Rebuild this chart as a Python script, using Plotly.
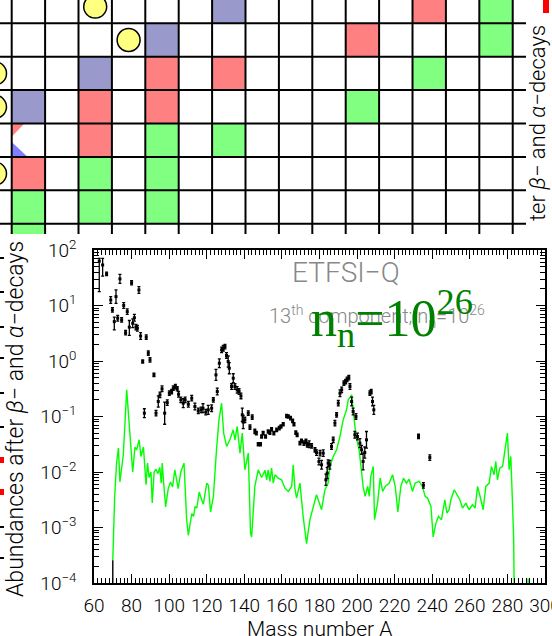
import numpy as np
import plotly.graph_objects as go

# ---------------- abundance panel data ----------------
# r-process model curve (13th component, n_n = 1e26): mass number and log10 abundance
model_A = [70.0, 71.0, 72.0, 73.0, 73.8, 75.6, 77.4, 80.6, 81.8, 82.7, 84.0, 85.0, 86.3, 87.7,
           88.5, 89.3, 90.3, 91.0, 92.0, 93.0, 94.0, 95.0, 95.8, 96.3, 97.2, 98.1, 99.5, 100.7,
           101.8, 103.0, 104.8, 106.2, 107.9, 109.3, 110.2, 112.0, 113.0, 113.8, 114.7, 116.0,
           117.3, 118.2, 120.0, 120.9, 122.0, 123.5, 125.2, 126.5, 127.9, 129.0, 130.6, 132.3,
           134.1, 135.0, 136.2, 137.7, 138.9, 140.3, 142.1, 143.3, 143.9, 145.6, 147.4, 149.2,
           151.0, 151.9, 152.7, 153.6, 154.5, 155.4, 156.3, 158.0, 159.8, 161.6, 163.4, 165.2,
           166.0, 166.9, 167.8, 169.6, 171.3, 173.1, 174.9, 176.6, 178.4, 179.3, 181.1, 182.9,
           184.6, 185.5, 187.3, 189.1, 190.9, 192.6, 194.4, 195.3, 197.1, 199.4, 201.1, 203.2,
           204.3, 205.6, 206.5, 207.3, 208.6, 209.3, 210.9, 212.3, 213.6, 215.0, 217.1, 218.9,
           220.3, 221.7, 223.3, 224.7, 226.3, 227.7, 229.5, 230.9, 233.0, 234.8, 236.2, 237.5,
           239.3, 240.5, 241.9, 243.3, 244.9, 246.7, 247.8, 249.0, 249.9, 251.7, 253.5, 254.7,
           256.1, 257.9, 259.6, 261.4, 262.8, 264.1, 265.9, 267.1, 268.5, 270.3, 271.5, 272.9,
           273.8, 274.7, 275.9, 277.4, 278.2, 279.1, 280.0, 280.9, 281.8, 282.7, 283.3, 283.9,
           290.5, 291.0, 291.5]
model_log = [-3.59, -2.45, -1.84, -1.57, -2.18, -1.69, -0.52, -2.00, -1.55, -1.60, -1.42, -1.72,
             -1.55, -2.23, -1.84, -2.10, -2.00, -2.56, -2.00, -1.95, -2.03, -1.92, -2.20, -1.84,
             -2.25, -2.63, -2.30, -2.18, -2.27, -1.96, -2.30, -2.00, -1.84, -2.85, -3.14, -2.75,
             -2.80, -2.62, -2.65, -2.36, -2.50, -2.58, -2.20, -2.24, -2.72, -2.45, -1.60, -1.06,
             -0.76, -1.30, -1.54, -1.42, -1.24, -1.42, -1.18, -1.66, -1.30, -1.96, -1.66, -3.10,
             -3.17, -2.26, -1.96, -2.10, -1.97, -2.14, -1.96, -2.17, -1.93, -2.20, -2.05, -2.11,
             -2.14, -2.29, -2.35, -2.26, -1.87, -2.29, -2.47, -2.20, -2.80, -3.29, -2.86, -2.63,
             -2.41, -2.50, -2.68, -2.32, -2.20, -1.90, -1.72, -1.60, -1.36, -1.06, -0.88, -0.70,
             -0.61, -1.36, -1.60, -2.26, -2.44, -2.26, -2.44, -2.08, -1.90, -2.86, -2.56, -2.11,
             -2.35, -2.26, -2.20, -2.05, -2.26, -2.72, -2.26, -2.11, -2.20, -2.13, -2.35, -2.20,
             -2.17, -2.26, -2.44, -2.47, -2.62, -3.17, -2.93, -2.80, -2.86, -2.50, -2.74, -2.68,
             -2.50, -2.32, -2.44, -2.50, -2.65, -2.56, -2.68, -2.59, -2.65, -2.26, -2.50, -2.68,
             -2.26, -2.20, -1.90, -2.05, -1.81, -2.14, -1.93, -1.90, -1.72, -1.48, -1.30, -1.96,
             -1.72, -2.56, -3.17, -5.00, -5.00, -3.92, -5.00]

# onset of the model curve at A = 70
onset_A = [70.0, 70.0]
onset_log = [-5.0, -3.59]

# solar r-process abundances with uncertainties (log10, dex)
solar_A = [62.8, 64.6, 66.7, 68.9, 69.8, 70.8, 71.7, 72.6, 73.8, 74.7, 75.8, 76.8, 77.7, 78.8,
           80.0, 80.6, 81.5, 82.3, 83.1, 83.9, 84.8, 85.9, 86.8, 87.8, 88.9, 89.8, 91.9, 93.0,
           94.2, 95.1, 96.2, 97.6, 99.0, 100.1, 101.3, 102.2, 103.3, 104.3, 105.0, 106.2, 107.5,
           108.5, 110.2, 112.0, 113.7, 115.5, 117.0, 118.0, 119.5, 120.8, 122.6, 123.5, 124.9,
           125.6, 126.7, 127.9, 128.8, 129.7, 130.5, 131.4, 132.0, 133.2, 134.1, 135.0, 136.2,
           137.2, 138.2, 138.9, 139.4, 140.3, 142.1, 143.0, 144.2, 145.6, 146.4, 147.4, 148.6,
           149.2, 150.0, 151.3, 152.7, 153.6, 154.5, 155.7, 157.2, 158.6, 159.5, 160.7, 162.5,
           163.4, 164.6, 165.7, 166.4, 167.4, 168.1, 169.6, 170.4, 171.7, 172.8, 173.5, 174.5,
           175.8, 177.6, 178.4, 179.7, 180.3, 181.1, 182.0, 183.4, 184.1, 184.6, 185.5, 186.4,
           187.3, 188.2, 189.1, 190.0, 190.9, 191.8, 193.0, 193.9, 194.7, 195.6, 196.2, 197.1,
           197.9, 198.8, 199.4, 200.2, 201.5, 202.4, 203.2, 204.1, 205.0, 206.8, 207.5, 208.2,
           208.9, 232.7, 235.3, 238.7]
solar_log = [1.80, 1.73, 1.57, 1.10, 0.92, 0.71, 1.16, 0.77, 1.48, 0.74, 1.00, 0.51, 0.89, 0.61,
             1.41, 0.68, 0.78, 0.61, 0.59, 1.28, 0.45, -0.01, -0.94, 0.43, 0.14, 0.02, -0.25,
             -0.94, -0.73, -0.61, -0.50, -0.94, -0.75, -0.58, -0.55, -0.49, -0.46, -0.50, -0.60,
             -0.70, -0.76, -0.70, -0.78, -0.67, -0.82, -0.90, -0.88, -0.85, -0.92, -0.88, -0.85,
             -0.70, -0.25, -0.55, -0.04, 0.20, 0.23, 0.26, 0.10, -0.01, -0.13, -0.46, -0.31, -0.46,
             -0.52, -0.55, -0.63, -0.97, -1.10, -1.06, -0.94, -1.19, -1.01, -1.27, -1.30, -1.50,
             -1.50, -1.36, -1.30, -1.36, -1.27, -1.29, -1.23, -1.30, -1.24, -1.21, -1.18, -1.14,
             -0.99, -1.00, -1.03, -1.08, -1.14, -1.29, -1.33, -1.48, -1.44, -1.48, -1.45, -1.51,
             -1.50, -1.53, -1.60, -1.65, -1.81, -1.66, -1.87, -1.66, -2.14, -2.02, -1.84, -1.87,
             -1.54, -1.42, -1.12, -0.97, -0.76, -0.58, -0.52, -0.40, -0.37, -0.33, -0.30, -0.46,
             -0.73, -0.91, -1.33, -1.00, -1.36, -1.48, -1.60, -1.81, -1.65, -1.42, -0.58, -0.55,
             -0.73, -0.88, -1.36, -2.24, -1.74]
solar_err_up = [0.05, 0.12, 0.03, 0.06, 0.04, 0.08, 0.12, 0.05, 0.08, 0.04, 0.05, 0.04, 0.05, 0.12,
                0.04, 0.08, 0.06, 0.05, 0.05, 0.06, 0.06, 0.03, 0.08, 0.04, 0.04, 0.04, 0.03, 0.05,
                0.10, 0.05, 0.05, 0.20, 0.05, 0.04, 0.04, 0.04, 0.04, 0.04, 0.05, 0.05, 0.08, 0.05,
                0.05, 0.05, 0.06, 0.05, 0.05, 0.08, 0.05, 0.08, 0.06, 0.04, 0.10, 0.06, 0.08, 0.05,
                0.05, 0.04, 0.05, 0.10, 0.10, 0.05, 0.08, 0.05, 0.06, 0.05, 0.05, 0.12, 0.12, 0.05,
                0.04, 0.04, 0.04, 0.04, 0.03, 0.03, 0.03, 0.03, 0.03, 0.03, 0.03, 0.03, 0.03, 0.03,
                0.03, 0.03, 0.03, 0.03, 0.03, 0.03, 0.03, 0.03, 0.03, 0.03, 0.03, 0.03, 0.03, 0.04,
                0.04, 0.04, 0.06, 0.04, 0.04, 0.05, 0.06, 0.05, 0.08, 0.06, 0.10, 0.10, 0.06, 0.08,
                0.05, 0.05, 0.05, 0.04, 0.05, 0.06, 0.05, 0.04, 0.04, 0.04, 0.04, 0.05, 0.08, 0.06,
                0.06, 0.05, 0.06, 0.08, 0.08, 0.15, 0.10, 0.15, 0.04, 0.04, 0.08, 0.08, 0.04, 0.05,
                0.05]
solar_err_dn = [0.55, 0.20, 0.03, 0.06, 0.04, 0.15, 0.12, 0.05, 0.08, 0.04, 0.05, 0.04, 0.05, 0.15,
                0.04, 0.08, 0.06, 0.05, 0.05, 0.06, 0.06, 0.03, 0.08, 0.04, 0.04, 0.04, 0.03, 0.05,
                0.10, 0.05, 0.05, 0.20, 0.05, 0.04, 0.04, 0.04, 0.04, 0.04, 0.05, 0.05, 0.08, 0.05,
                0.05, 0.05, 0.06, 0.05, 0.05, 0.08, 0.05, 0.08, 0.06, 0.04, 0.10, 0.06, 0.08, 0.05,
                0.05, 0.04, 0.05, 0.10, 0.10, 0.05, 0.08, 0.05, 0.06, 0.05, 0.05, 0.12, 0.12, 0.05,
                0.04, 0.04, 0.04, 0.04, 0.03, 0.03, 0.03, 0.03, 0.03, 0.03, 0.03, 0.03, 0.03, 0.03,
                0.03, 0.03, 0.03, 0.03, 0.03, 0.03, 0.03, 0.03, 0.03, 0.03, 0.03, 0.03, 0.03, 0.04,
                0.04, 0.04, 0.06, 0.04, 0.04, 0.05, 0.06, 0.05, 0.08, 0.06, 0.10, 0.10, 0.06, 0.08,
                0.05, 0.05, 0.05, 0.04, 0.05, 0.06, 0.05, 0.04, 0.04, 0.04, 0.04, 0.05, 0.08, 0.06,
                0.06, 0.05, 0.06, 0.08, 0.08, 0.15, 0.10, 0.15, 0.04, 0.04, 0.08, 0.08, 0.04, 0.05,
                0.05]

x_ticks = [60, 80, 100, 120, 140, 160, 180, 200, 220, 240, 260, 280, 300]
y_tick_exp = [-4, -3, -2, -1, 0, 1, 2]

# ---------------- nuclide grid data (column, row) ----------------
blue_cells = [(7, 0), (5, 1), (3, 2), (1, 3)]
red_cells = [(13, 0), (11, 1), (5, 2), (7, 2), (3, 3), (5, 3), (3, 4), (1, 5)]
green_cells = [(15, 0), (15, 1), (13, 2), (11, 3), (5, 4), (7, 4), (3, 5), (5, 5),
               (1, 6), (3, 6), (5, 6), (1, 7)]
stable_nuclei = [(3, 0), (4, 1), (0, 2), (0, 3), (0, 5)]
n_cols, n_rows = 17, 8

FONT = "Roboto"
W, H = 552, 636

fig = go.Figure()

# ---- nuclide chart cells ----
z = np.full((n_rows, n_cols), np.nan)
for code, cells in ((1, blue_cells), (2, red_cells), (3, green_cells)):
    for c, r in cells:
        z[r, c] = code
fig.add_trace(go.Heatmap(
    x=list(range(n_cols)), y=list(range(n_rows)), z=z, xaxis="x2", yaxis="y2",
    zmin=1, zmax=3, showscale=False, hoverinfo="skip",
    colorscale=[[0.0, "#9999cc"], [0.5, "#ff8080"], [1.0, "#80ff80"]],
))
fig.add_trace(go.Scatter(
    x=[c for c, r in stable_nuclei], y=[r for c, r in stable_nuclei], xaxis="x2", yaxis="y2",
    mode="markers", hoverinfo="skip",
    marker=dict(size=23, color="#ffff80", line=dict(color="black", width=1.5)),
))

# ---- abundance panel ----
sol_A = np.array(solar_A)
sol_v = 10 ** np.array(solar_log)
err_plus = 10 ** (np.array(solar_log) + np.array(solar_err_up)) - sol_v
err_minus = sol_v - 10 ** (np.array(solar_log) - np.array(solar_err_dn))

fig.add_trace(go.Scatter(
    x=model_A, y=10 ** np.array(model_log), mode="lines",
    line=dict(color="#00ff00", width=1.4), hoverinfo="skip",
))
fig.add_trace(go.Scatter(
    x=onset_A, y=10 ** np.array(onset_log), mode="lines",
    line=dict(color="black", width=1.4), hoverinfo="skip",
))
fig.add_trace(go.Scatter(
    x=sol_A, y=sol_v, mode="markers", hoverinfo="skip",
    marker=dict(symbol="square", size=3, color="black"),
    error_y=dict(type="data", array=err_plus, arrayminus=err_minus, symmetric=False,
                 color="black", thickness=1.3, width=1.5),
))

tick_font = dict(family=FONT, size=19, color="black", weight=300)

fig.update_layout(
    template="none",
    width=W, height=H, margin=dict(l=0, r=0, t=0, b=0, autoexpand=False),
    paper_bgcolor="white", plot_bgcolor="rgba(0,0,0,0)", showlegend=False,
    xaxis=dict(
        domain=[94 / W, 545 / W], range=[60, 300], anchor="y", automargin=False,
        tickmode="array", tickvals=x_ticks, ticktext=[str(v) for v in x_ticks], tickangle=0,
        ticklabeloverflow="allow",
        ticks="inside", ticklen=9, tickwidth=1.2, tickcolor="black",
        minor=dict(dtick=2, ticks="inside", ticklen=5, tickwidth=1, tickcolor="black"),
        showline=True, linecolor="black", linewidth=1.6, mirror="allticks",
        showgrid=False, zeroline=False, tickfont=tick_font, ticklabelstandoff=4,
    ),
    yaxis=dict(
        type="log", domain=[53 / H, 386 / H], range=[-4, 2], anchor="x", automargin=False,
        tickmode="array", tickvals=[10.0 ** e for e in y_tick_exp],
        ticktext=["10<sup>%s</sup>" % (str(e).replace("-", "\u2212")) for e in y_tick_exp],
        ticklabeloverflow="allow",
        ticks="inside", ticklen=9, tickwidth=1.2, tickcolor="black",
        minor=dict(dtick="D1", ticks="inside", ticklen=5, tickwidth=1, tickcolor="black"),
        showline=True, linecolor="black", linewidth=1.6, mirror="allticks",
        showgrid=False, zeroline=False, tickfont=tick_font, ticklabelstandoff=12,
    ),
    xaxis2=dict(domain=[0, 526 / W], range=[0.1497, 15.898], anchor="y2", visible=False,
                automargin=False),
    yaxis2=dict(domain=[402 / H, 1], range=[6.808, -0.1976], anchor="x2", visible=False,
                automargin=False),
)

# grid lines of the nuclide chart
shapes = []
for k in range(16):
    shapes.append(dict(type="line", xref="x2", yref="y2", x0=k + 0.5, x1=k + 0.5,
                       y0=-0.1976, y1=6.808, line=dict(color="black", width=2), layer="above"))
for k in range(7):
    shapes.append(dict(type="line", xref="x2", yref="y2", x0=0.1497, x1=15.898,
                       y0=k + 0.5, y1=k + 0.5, line=dict(color="black", width=2), layer="above"))
# split cell (two decay branches)
shapes.append(dict(type="path", xref="x2", yref="y2", path="M 0.5 3.5 L 0.88 3.5 L 0.5 3.9 Z",
                   fillcolor="#ff8080", line=dict(width=0), layer="below"))
shapes.append(dict(type="path", xref="x2", yref="y2", path="M 0.5 4.05 L 0.98 4.5 L 0.5 4.5 Z",
                   fillcolor="#8080ff", line=dict(width=0), layer="below"))
# marker at the top-right corner
shapes.append(dict(type="rect", xref="paper", yref="paper", x0=543 / W, x1=549 / W,
                   y0=1 - 13 / H, y1=1, fillcolor="#ff0000", line=dict(width=0)))
# edge of the neighbouring panel on the left
for yy in (258, 292, 327, 358, 393, 427, 527, 558):
    shapes.append(dict(type="line", xref="paper", yref="paper", x0=0, x1=4 / W,
                       y0=1 - yy / H, y1=1 - yy / H, line=dict(color="black", width=2)))
for yy in (460, 492):
    shapes.append(dict(type="rect", xref="paper", yref="paper", x0=0, x1=4 / W,
                       y0=1 - (yy + 3) / H, y1=1 - (yy - 3) / H, fillcolor="#ff0000",
                       line=dict(width=0)))
fig.update_layout(shapes=shapes)


def label(text, x, y, size, color="black", family=FONT, weight=300, angle=0):
    return dict(text=text, x=x / W, y=1 - y / H, xref="paper", yref="paper",
                xanchor="center", yanchor="middle", showarrow=False, textangle=angle,
                font=dict(family=family, size=size, color=color, weight=weight))


ann = [
    label("ETFSI\u2212Q", 346, 272, 28, color="#888888"),
    label("13<sup>th</sup> component; n<sub>n</sub>=10<sup>26</sup>", 377, 316, 20,
          color="#888888"),
    label("n<sub>n</sub>=10<sup>26</sup>", 392, 318, 52, color="#008000",
          family="Liberation Serif", weight=400),
    label("Mass number A", 319, 629, 21),
    label("Abundances after <i>\u03b2</i>\u2212 and <i>\u03b1</i>\u2212decays", 15, 419, 23,
          angle=-90),
    label("ter <i>\u03b2</i>\u2212 and <i>\u03b1</i>\u2212decays", 537, 123, 22, angle=-90),
]
fig.update_layout(annotations=ann)

fig.write_html("out.html")
